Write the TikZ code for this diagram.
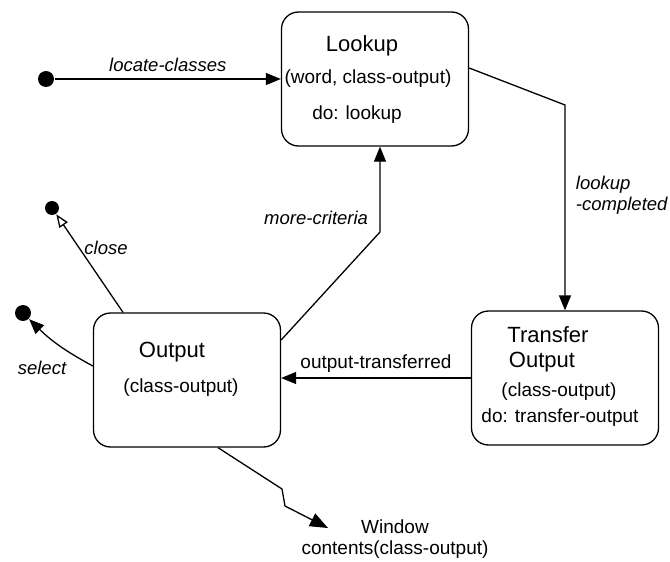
\documentclass[tikz,border=0pt]{standalone}
\usepackage{fontspec}
\setmainfont{Liberation Sans}
\usepackage{tikz}
\usetikzlibrary{arrows.meta,positioning,calc}
\tikzset{
  pont/.style={circle,fill,inner sep=0pt,minimum size=16pt},
  kispont/.style={circle,fill,inner sep=0pt,minimum size=14pt},
  nyil/.style={-{Triangle[length=15pt,width=12pt]}},
  ures/.style={-{Triangle[open,length=13pt,width=10pt]}},
  allapot/.style={draw,rounded corners=17pt,minimum width=187pt,minimum height=134pt,inner sep=0pt},
  cim/.style={font=\fontsize{22}{26}\selectfont},
  szov/.style={font=\fontsize{19}{22}\selectfont},
  felirat/.style={font=\fontsize{18.5}{21}\selectfont\itshape},
}
\begin{document}
\begin{tikzpicture}[x=1pt,y=-1pt,line width=1.3pt]
  \useasboundingbox (0,0) rectangle (670,562);
  % allapotok
  \node[allapot] (lookup) at (375,79) {};
  \node[allapot] (xfer) at (565,378) {};
  \node[allapot] (out) at (187,380) {};
  \node[cim] (lookupcim) at (362,46) {Lookup};
  \node[szov] (lookupparam) at (368,79) {(word, class-output)};
  \node[szov] (lookupdo) at (357,115) {do: lookup};
  \node[cim] (xfercim1) at (548,335) {Transfer};
  \node[cim] (xfercim2) at (542,362) {Output};
  \node[szov] (xferparam) at (559,392) {(class-output)};
  \node[szov] (xferdo) at (560,418) {do: transfer-output};
  \node[cim] (outcim) at (172,352) {Output};
  \node[szov] (outparam) at (181,388) {(class-output)};
  % kezdo- es vegpontok
  \node[pont] (start) at (46,79) {};
  \node[kispont] (vege1) at (52,208) {};
  \node[pont] (vege2) at (23,313) {};
  \coordinate (lc) at (565,105);
  \coordinate (mc) at (380,232);
  \coordinate (z1) at (282,489);
  \coordinate (z2) at (285,506);
  \coordinate (ablak) at (328,528);
  % atmenetek
  \draw[nyil] (start) -- node[felirat,above=3pt] {locate-classes} (start -| lookup.west);
  \draw[nyil] ([yshift=11pt]lookup.east) -- (lc) -- (xfer.north);
  \node[felirat,align=left,anchor=west] (lcfel) at (572,195) {lookup\\-completed};
  \draw[nyil] (xfer.west) -- node[szov,above=2pt] {output-transferred} (xfer.west -| out.east);
  \draw[nyil] ([yshift=40pt]out.east) -- (mc) -- (mc |- lookup.south);
  \node[felirat,anchor=east] (mcfel) at (372,218) {more-criteria};
  \draw[ures] ([xshift=-64pt]out.north) -- (vege1);
  \node[felirat] (zarfel) at (106,248) {close};
  \draw[nyil] ([yshift=14pt]out.west) to[bend left=8] (vege2);
  \node[felirat] (valfel) at (42,368) {select};
  \draw[-{Triangle[length=18pt,width=14pt]}] ([xshift=31pt]out.south) -- (z1) -- (z2) -- (ablak);
  \node[szov,align=center,font=\fontsize{19}{21}\selectfont] (win) at (395,539) {Window\\contents(class-output)};
\end{tikzpicture}
\end{document}
